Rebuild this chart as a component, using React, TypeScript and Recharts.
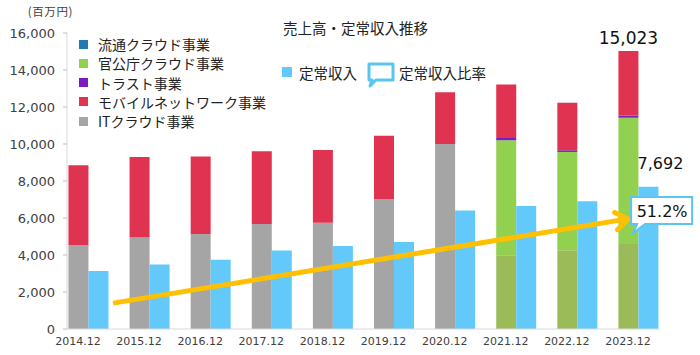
import { Bar, Cell, ComposedChart, LabelList, ReferenceLine, XAxis, YAxis } from "recharts";

const years = ["2014.12", "2015.12", "2016.12", "2017.12", "2018.12", "2019.12", "2020.12", "2021.12", "2022.12", "2023.12"];
const itCloud = [4530, 4950, 5140, 5680, 5740, 7030, 10000, 3990, 4260, 4600];
const govCloud = [0, 0, 0, 0, 0, 0, 0, 6210, 5310, 6820];
const trust = [0, 0, 0, 0, 0, 0, 0, 120, 90, 120];
const mobile = [4320, 4350, 4180, 3930, 3940, 3420, 2800, 2900, 2570, 3483];
const distribution = [0, 0, 0, 0, 0, 0, 0, 0, 0, 0];
const recurring = [3130, 3490, 3740, 4250, 4480, 4700, 6400, 6650, 6910, 7692];
const yTicks = [0, 2000, 4000, 6000, 8000, 10000, 12000, 14000, 16000];

// trend arrow in data units (x = category index, y = 百万円)
const trendFrom = { x: 0.41, y: 1400 };
const trendTo = { x: 8.83, y: 5940 };

const last = years.length - 1;
const data = years.map((year, i) => {
  const total = itCloud[i] + govCloud[i] + trust[i] + mobile[i] + distribution[i];
  return {
    year,
    idx: i,
    it: itCloud[i],
    gov: govCloud[i],
    trust: trust[i],
    mobile: mobile[i],
    dist: distribution[i],
    recurring: recurring[i],
    totalLabel: i === last ? total : null,
    recurringLabel: i === last ? recurring[i] : null,
  };
});
const lastTotal = itCloud[last] + govCloud[last] + trust[last] + mobile[last] + distribution[last];
const ratioText = ((recurring[last] / lastTotal) * 100).toFixed(1) + "%";

const C = {
  it: "#A5A5A5",
  olive: "#9BBB59",
  gov: "#92D050",
  trust: "#7A1CC0",
  mobile: "#E03352",
  dist: "#2078B4",
  recurring: "#63C8FA",
  arrow: "#FFC000",
  frame: "#5BC5F2",
};

const numFont = "'DejaVu Sans', sans-serif";
const jpFont = "'Noto Sans CJK JP', sans-serif";
const fmt = (v: any) => (v == null ? "" : Number(v).toLocaleString("en-US"));

function TrendArrow(props: any) {
  const { x1, y1, x2, y2 } = props;
  const ang = Math.atan2(y2 - y1, x2 - x1);
  const head = 15;
  const spread = 0.62;
  const ax = x2 - head * Math.cos(ang - spread);
  const ay = y2 - head * Math.sin(ang - spread);
  const bx = x2 - head * Math.cos(ang + spread);
  const by = y2 - head * Math.sin(ang + spread);
  const L = x2 + 3;
  const T = y2 - 22;
  const R = L + 61;
  const B = y2 + 5;
  return (
    <g>
      <line x1={x1} y1={y1} x2={x2 - 2} y2={y2} stroke={C.arrow} strokeWidth={5} />
      <polyline
        points={`${ax},${ay} ${x2},${y2} ${bx},${by}`}
        fill="none"
        stroke={C.arrow}
        strokeWidth={5}
        strokeLinecap="round"
        strokeLinejoin="round"
      />
      <path
        d={`M${L},${T} H${R} V${B} H${L + 14} L${L + 2},${B + 9} L${L + 6},${B} H${L} Z`}
        fill="#fff"
        stroke={C.frame}
        strokeWidth={2}
      />
      <text x={L + 31} y={T + 14} textAnchor="middle" dominantBaseline="central" fontSize={16} fontFamily={numFont} fill="#111">
        {ratioText}
      </text>
    </g>
  );
}

const leftLegend = [
  { name: "流通クラウド事業", color: C.dist },
  { name: "官公庁クラウド事業", color: C.gov },
  { name: "トラスト事業", color: C.trust },
  { name: "モバイルネットワーク事業", color: C.mobile },
  { name: "ITクラウド事業", color: C.it },
];

export default function App() {
  return (
    <div style={{ position: "absolute", left: 0, top: 0, width: 700, height: 355, background: "#fff" }}>
      <ComposedChart width={700} height={355} data={data} margin={{ top: 33, right: 41, bottom: 6, left: 7 }} barGap={0}>
        <XAxis
          dataKey="year"
          height={20}
          padding={{ left: -9.55, right: -9.55 }}
          axisLine={{ stroke: "#D9D9D9" }}
          tickLine={false}
          tick={{ fill: "#404040", fontSize: 11, fontFamily: numFont, dx: -10 }}
          interval={0}
        />
        <XAxis xAxisId="pos" dataKey="idx" type="number" domain={[0, 9]} hide allowDataOverflow padding={{ left: 21, right: 20.5 }} />
        <YAxis
          width={60}
          domain={[0, 16000]}
          ticks={yTicks}
          tickFormatter={fmt}
          axisLine={{ stroke: "#D9D9D9" }}
          tickLine={{ stroke: "#BFBFBF" }}
          tickSize={4}
          tickMargin={8}
          tick={{ fill: "#404040", fontSize: 13, fontFamily: numFont }}
        />
        <Bar dataKey="it" stackId="a" barSize={20} isAnimationActive={false}>
          {data.map((d, i) => (
            <Cell key={i} fill={d.gov > 0 ? C.olive : C.it} />
          ))}
        </Bar>
        <Bar dataKey="gov" stackId="a" barSize={20} fill={C.gov} isAnimationActive={false} />
        <Bar dataKey="trust" stackId="a" barSize={20} fill={C.trust} isAnimationActive={false} />
        <Bar dataKey="mobile" stackId="a" barSize={20} fill={C.mobile} isAnimationActive={false}>
          <LabelList dataKey="totalLabel" position="top" offset={7} formatter={fmt} fill="#111" fontSize={17} fontFamily={numFont} />
        </Bar>
        <Bar dataKey="dist" stackId="a" barSize={20} fill={C.dist} isAnimationActive={false} />
        <Bar dataKey="recurring" barSize={20} fill={C.recurring} isAnimationActive={false}>
          <LabelList dataKey="recurringLabel" position="top" offset={18} dx={12} formatter={fmt} fill="#111" fontSize={16} fontFamily={numFont} />
        </Bar>
        <ReferenceLine xAxisId="pos" segment={[trendFrom, trendTo]} ifOverflow="visible" shape={TrendArrow} />
      </ComposedChart>

      <div
        style={{
          position: "absolute",
          left: 14,
          width: 59,
          top: 3,
          textAlign: "right",
          fontSize: 11.5,
          letterSpacing: 0.6,
          fontFamily: jpFont,
          color: "#404040",
          whiteSpace: "nowrap",
        }}
      >
        (百万円)
      </div>
      <div style={{ position: "absolute", left: 283, top: 17, fontSize: 14.5, fontFamily: jpFont, color: "#222", whiteSpace: "nowrap" }}>
        売上高・定常収入推移
      </div>

      {leftLegend.map((item, i) => (
        <div
          key={item.name}
          style={{ position: "absolute", left: 79, top: 34.4 + i * 19.3, height: 19.3, display: "flex", alignItems: "center", whiteSpace: "nowrap" }}
        >
          <span style={{ width: 9, height: 9, background: item.color, display: "inline-block" }} />
          <span style={{ marginLeft: 10, fontSize: 14, fontFamily: jpFont, color: "#222" }}>{item.name}</span>
        </div>
      ))}

      <div style={{ position: "absolute", left: 282, top: 62, height: 20, display: "flex", alignItems: "center", whiteSpace: "nowrap" }}>
        <span style={{ width: 10, height: 10, background: C.recurring, display: "inline-block" }} />
        <span style={{ marginLeft: 7, fontSize: 14.5, fontFamily: jpFont, color: "#222" }}>定常収入</span>
      </div>
      <svg style={{ position: "absolute", left: 366, top: 61 }} width={30} height={28}>
        <path d="M3,3 H27 V19 H10 L4,25 L6,19 H3 Z" fill="#fff" stroke={C.frame} strokeWidth={3} strokeLinejoin="round" />
      </svg>
      <div style={{ position: "absolute", left: 399, top: 62, height: 20, display: "flex", alignItems: "center", whiteSpace: "nowrap" }}>
        <span style={{ fontSize: 14.5, fontFamily: jpFont, color: "#222" }}>定常収入比率</span>
      </div>
    </div>
  );
}
